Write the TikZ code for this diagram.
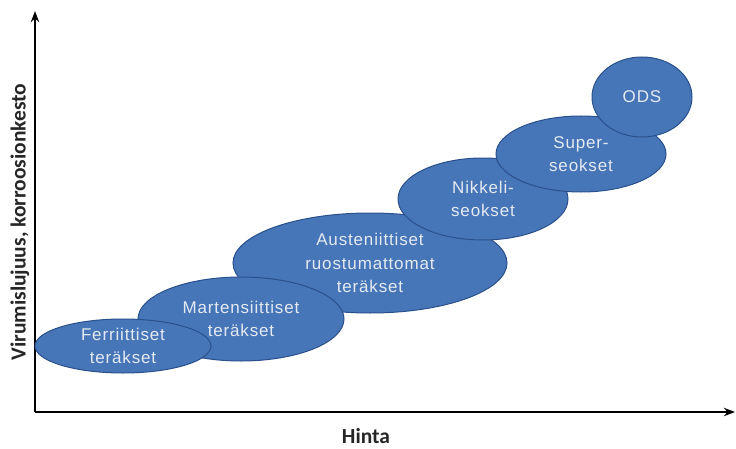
\documentclass[tikz,border=0pt]{standalone}
\usepackage{fontspec}
\setmainfont{Liberation Sans}
\newfontfamily\axisfont{Carlito}
\newfontfamily\alloyfont[LetterSpace=5]{Liberation Sans}
\usetikzlibrary{shapes,arrows.meta}
\definecolor{steelblue}{RGB}{70,118,184}
\definecolor{steeledge}{RGB}{42,80,140}
\definecolor{palewhite}{RGB}{228,234,242}
\tikzstyle{alloy}=[ellipse,draw=steeledge,fill=steelblue,line width=1pt,
inner sep=0pt,text=palewhite,align=center,
font=\alloyfont\fontsize{17}{23.5}\selectfont]

\begin{document}
\begin{tikzpicture}[x=1pt,y=1pt,>=Stealth]
    \tikzstyle{axis}=[line width=1.8pt,->]
    \tikzstyle{aname}=[inner sep=1pt,text=black!85,
    font=\axisfont\bfseries\fontsize{21.5}{24}\selectfont]
    \useasboundingbox (0,0) rectangle (736,448);

    \coordinate (o) at (35,36);
    \coordinate (ytop) at (35,437);
    \coordinate (xend) at (735,36);
    \draw[axis] (o) -- (ytop);
    \draw[axis] (o) -- (xend);
    \node[aname] at (366,12) (hinta) {Hinta};
    \node[aname,rotate=90] at (20,226) (viru)
    {Virumislujuus, korroosionkesto};

    \node[alloy,minimum width=274pt,minimum height=100pt] at (370,185)
    (aust) {Austeniittiset\\ruostumattomat\\teräkset};
    \node[alloy,minimum width=206pt,minimum height=84pt] at (241,129)
    (mart) {Martensiittiset\\teräkset};
    \node[alloy,minimum width=176pt,minimum height=54pt] at (123,102)
    (ferr) {Ferriittiset\\teräkset};

    \node[alloy,minimum width=170pt,minimum height=82pt] at (483,249)
    (nikk) {Nikkeli-\\seokset};
    \node[alloy,minimum width=170pt,minimum height=76pt] at (581,294)
    (super) {Super-\\seokset};
    \node[alloy,minimum width=100pt,minimum height=80pt] at (642,351)
    (ods) {ODS};
\end{tikzpicture}
\end{document}
